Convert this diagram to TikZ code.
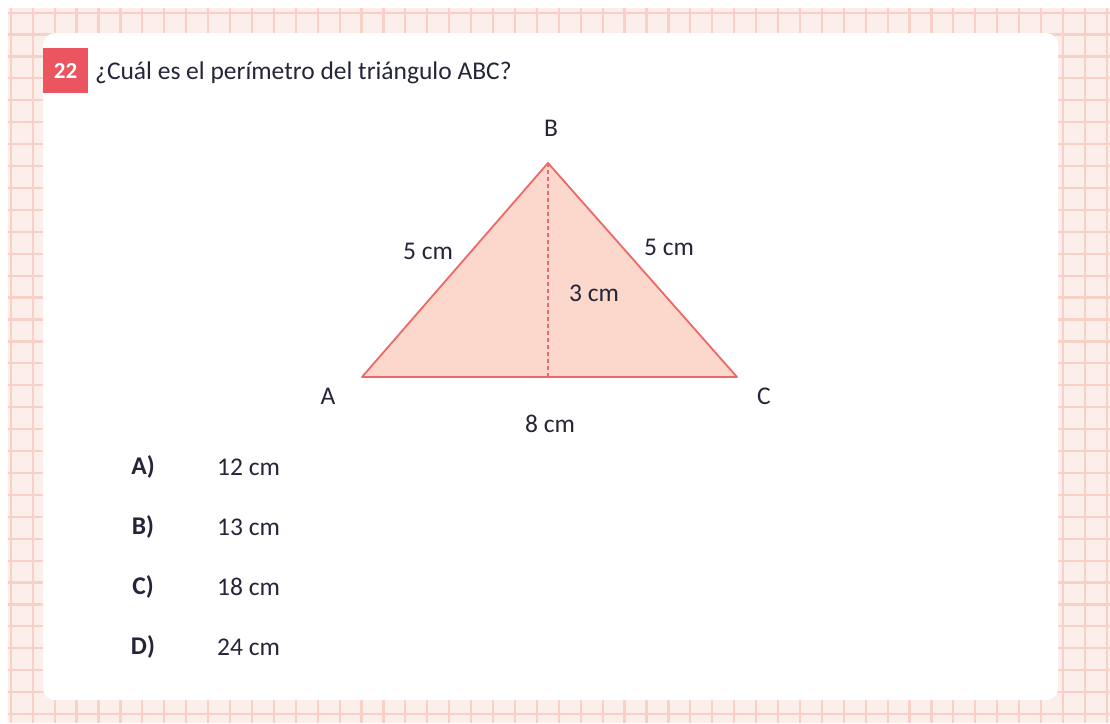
\documentclass[tikz,border=0pt]{standalone}
\usepackage{fontspec}
\setmainfont{Carlito}
\definecolor{gridbg}{HTML}{FCEEEA}
\definecolor{gridln}{HTML}{F9D0C7}
\definecolor{badge}{HTML}{EA5560}
\definecolor{triline}{HTML}{EE6868}
\definecolor{trifill}{HTML}{FBD8CB}
\definecolor{ink}{HTML}{25253A}
\tikzset{
  txt/.style={inner sep=0pt, text=ink, font=\fontsize{25.5}{30}\selectfont},
  optkey/.style={txt, font=\fontsize{25.5}{30}\selectfont\bfseries},
  optval/.style={txt, anchor=west},
  gridline/.style={gridln, line width=2.2pt},
  side/.style={triline, line width=1.8pt, line join=round}
}
\begin{document}
\begin{tikzpicture}[x=1pt,y=-1pt]
\useasboundingbox (0,0) rectangle (1110,723);
\fill[white] (0,0) rectangle (1110,723);
% squared paper
\begin{scope}
  \clip (8,8) rectangle (1110,723);
  \fill[gridbg] (8,8) rectangle (1110,723);
  \foreach \k in {0,...,50}
    \draw[gridline] ({10.8+21.92*\k},8) -- ++(0,715);
  \foreach \k in {0,...,33}
    \draw[gridline] (8,{12.6+21.92*\k}) -- ++(1102,0);
\end{scope}
\fill[white, rounded corners=12pt] (43,33) rectangle (1058,700);
% question
\node[fill=badge, minimum width=45pt, minimum height=45pt, inner sep=0pt,
  text=white, font=\fontsize{23}{26}\selectfont\bfseries] (num) at (65.5,70.5) {22};
\node[txt, anchor=base west] (question) at (95,79) {¿Cuál es el perímetro del triángulo ABC?};
% triangle
\coordinate (A) at (362,377);
\coordinate (B) at (548,163);
\coordinate (C) at (737,377);
\coordinate (H) at (548,377);
\filldraw[side, fill=trifill] (A) -- (B) -- (C) -- cycle;
\draw[triline, line width=1.4pt, dash pattern=on 4pt off 3pt] (B) -- (H);
\node[txt] (labA) at (328,396) {A};
\node[txt] (labB) at (551,128) {B};
\node[txt] (labC) at (764,396) {C};
\node[txt] (AB) at (428,251) {5 cm};
\node[txt] (BC) at (669,247) {5 cm};
\node[txt] (BH) at (594,293) {3 cm};
\node[txt] (AC) at (550,424) {8 cm};
% answers
\foreach \l/\v/\y in {A/12/467,B/13/527,C/18/587,D/24/647} {
  \node[optkey] (key\l) at (143,\y) {\l)};
  \node[optval] (val\l) at (217,\y) {\v\ cm};
}
\end{tikzpicture}
\end{document}
